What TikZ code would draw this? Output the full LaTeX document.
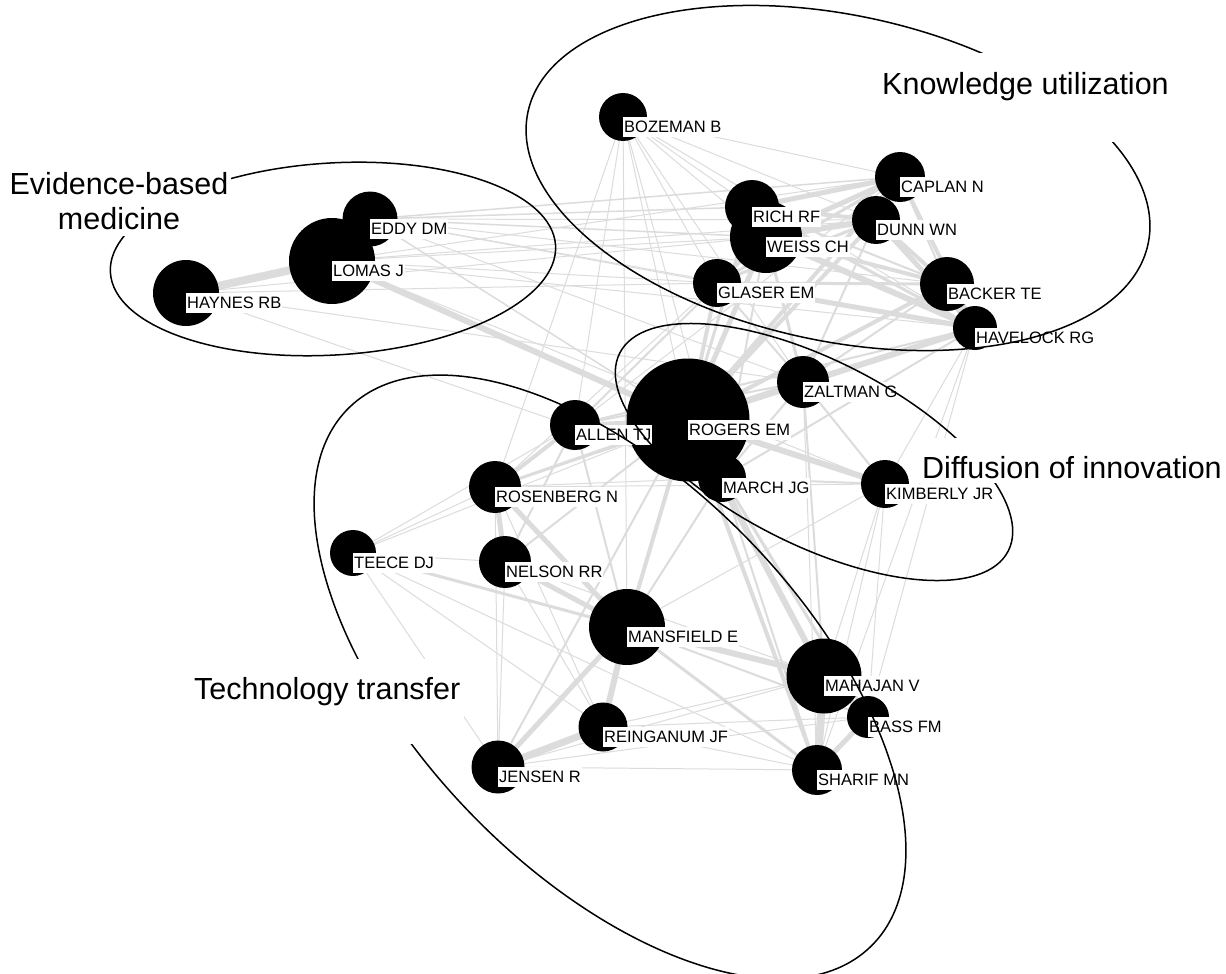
\documentclass[tikz,border=0pt]{standalone}
\usepackage{fontspec}
\setmainfont{Liberation Sans}
\definecolor{edgec}{RGB}{220,220,220}
\pgfdeclarelayer{bg}
\pgfdeclarelayer{edges}
\pgfsetlayers{bg,edges,main}
\begin{document}
\begin{tikzpicture}[x=1pt,y=-1pt,
  dot/.style={circle,fill=black,inner sep=0pt,minimum size=#1},
  ed/.style={draw=edgec,line width=#1},
  lab/.style={anchor=north west,fill=white,inner xsep=1pt,inner ysep=1.5pt,font=\fontsize{16.5}{18}\selectfont,text height=13.5pt,text depth=3.5pt},
  clab/.style={fill=white,font=\fontsize{30.5}{35}\selectfont,inner sep=0pt},
  clus/.style={draw=black,line width=1.5pt}]
\begin{pgfonlayer}{bg}
\fill[white] (0,0) rectangle (1226,974);
\end{pgfonlayer}
\useasboundingbox (0,0) rectangle (1226,974);
% ---- node circles
\node[dot=48] (boz) at (623,117) {};
\node[dot=72] (weiss) at (766,237) {};
\node[dot=54] (rich) at (752,207) {};
\node[dot=50] (caplan) at (900,177) {};
\node[dot=48] (dunn) at (876,220) {};
\node[dot=48] (glaser) at (717,283) {};
\node[dot=54] (backer) at (947,284) {};
\node[dot=44] (havelock) at (975,328) {};
\node[dot=55] (eddy) at (370,219) {};
\node[dot=86] (lomas) at (332,261) {};
\node[dot=66] (haynes) at (186,293) {};
\node[dot=123] (rogers) at (688,420) {};
\node[dot=50] (allen) at (575,425) {};
\node[dot=52] (zaltman) at (803,382) {};
\node[dot=48] (march) at (722,478) {};
\node[dot=48] (kimberly) at (885,484) {};
\node[dot=52] (rosenberg) at (495,487) {};
\node[dot=46] (teece) at (353,553) {};
\node[dot=52] (nelson) at (505,562) {};
\node[dot=76] (mansfield) at (627,627) {};
\node[dot=42] (bass) at (868,717) {};
\node[dot=75] (mahajan) at (824,676) {};
\node[dot=49] (reinganum) at (603,727) {};
\node[dot=53] (jensen) at (498,767) {};
\node[dot=50] (sharif) at (817,770) {};
% ---- edges
\begin{pgfonlayer}{edges}
\foreach \a/\b/\w in {
 haynes/lomas/8, lomas/eddy/4, lomas/rogers/6, haynes/zaltman/1, haynes/march/1,
 eddy/weiss/1.5, eddy/caplan/1.5, eddy/rich/1.5, eddy/dunn/1, lomas/weiss/1,
 lomas/glaser/1, eddy/havelock/1, lomas/kimberly/1, lomas/caplan/1, eddy/backer/1,
 haynes/weiss/1, eddy/glaser/1, lomas/dunn/1, lomas/havelock/1, eddy/zaltman/1,
 haynes/glaser/1, eddy/rogers/1.5,
 rich/weiss/6, rich/caplan/5, weiss/caplan/5, weiss/dunn/6, caplan/dunn/5,
 dunn/backer/4, dunn/havelock/5, caplan/havelock/4, weiss/havelock/6, weiss/backer/4,
 glaser/havelock/5, glaser/backer/3, glaser/weiss/3, glaser/dunn/3, backer/havelock/5,
 rich/havelock/3, rich/dunn/4, glaser/caplan/3, caplan/backer/2, rich/backer/2,
 boz/rich/1, boz/weiss/1, boz/caplan/1, boz/dunn/1, boz/glaser/1, boz/havelock/1,
 boz/allen/1, boz/rosenberg/1, boz/rogers/1, boz/march/1, boz/mansfield/1, boz/zaltman/1,
 rogers/weiss/5, rogers/glaser/4, rogers/havelock/6, rogers/caplan/4, rogers/dunn/4,
 rogers/backer/4, rogers/rich/3, zaltman/havelock/4, zaltman/weiss/3, zaltman/glaser/2,
 zaltman/dunn/2, zaltman/backer/2, kimberly/havelock/1, march/havelock/2, march/weiss/2,
 allen/havelock/2, allen/weiss/2, allen/caplan/1, havelock/sharif/1, havelock/bass/1,
 rosenberg/weiss/1, rosenberg/havelock/1,
 rogers/zaltman/6, rogers/kimberly/6, rogers/march/4, rogers/allen/4, rogers/rosenberg/3,
 rogers/mahajan/6, rogers/mansfield/4, rogers/sharif/4, rogers/bass/3, rogers/nelson/2,
 rogers/teece/1, rogers/jensen/2,
 zaltman/kimberly/2, zaltman/mahajan/2, zaltman/march/2, march/kimberly/2, march/mahajan/2,
 march/mansfield/2, kimberly/mahajan/1, kimberly/bass/1, kimberly/sharif/1,
 allen/rosenberg/4, allen/mansfield/2, allen/nelson/2, allen/march/2, allen/teece/1,
 allen/zaltman/2,
 rosenberg/nelson/5, rosenberg/mansfield/5, rosenberg/teece/1, rosenberg/jensen/1,
 rosenberg/reinganum/1, rosenberg/march/1, rosenberg/kimberly/1,
 teece/nelson/1, teece/mansfield/3, teece/jensen/1, teece/reinganum/1, teece/sharif/1,
 nelson/mansfield/5, nelson/jensen/1, nelson/reinganum/1, nelson/mahajan/1,
 mansfield/mahajan/6, mansfield/reinganum/6, mansfield/jensen/5, mansfield/sharif/3,
 mansfield/bass/2, mansfield/kimberly/1,
 mahajan/bass/6, mahajan/sharif/8, bass/sharif/5, reinganum/jensen/7,
 reinganum/mahajan/1, reinganum/sharif/1, reinganum/bass/1,
 jensen/sharif/1, jensen/mahajan/1, jensen/bass/1,
 march/sharif/2, march/bass/1, zaltman/sharif/1}
 {\draw[ed=\w] (\a.center) -- (\b.center);}
\end{pgfonlayer}
% ---- node labels
\node[lab] (boz-l) at (boz.center) {BOZEMAN B};
\node[lab] (weiss-l) at (weiss.center) {WEISS CH};
\node[lab] (rich-l) at (rich.center) {RICH RF};
\node[lab] (caplan-l) at (caplan.center) {CAPLAN N};
\node[lab] (dunn-l) at (dunn.center) {DUNN WN};
\node[lab] (glaser-l) at (glaser.center) {GLASER EM};
\node[lab] (backer-l) at (backer.center) {BACKER TE};
\node[lab] (havelock-l) at (havelock.center) {HAVELOCK RG};
\node[lab] (lomas-l) at (lomas.center) {LOMAS J};
\node[lab] (eddy-l) at (eddy.center) {EDDY DM};
\node[lab] (haynes-l) at (haynes.center) {HAYNES RB};
\node[lab] (rogers-l) at (rogers.center) {ROGERS EM};
\node[lab] (allen-l) at (allen.center) {ALLEN TJ};
\node[lab] (zaltman-l) at (zaltman.center) {ZALTMAN G};
\node[lab] (march-l) at (march.center) {MARCH JG};
\node[lab] (kimberly-l) at (kimberly.center) {KIMBERLY JR};
\node[lab] (rosenberg-l) at (rosenberg.center) {ROSENBERG N};
\node[lab] (teece-l) at (teece.center) {TEECE DJ};
\node[lab] (nelson-l) at (nelson.center) {NELSON RR};
\node[lab] (mansfield-l) at (mansfield.center) {MANSFIELD E};
\node[lab] (mahajan-l) at (mahajan.center) {MAHAJAN V};
\node[lab] (bass-l) at (bass.center) {BASS FM};
\node[lab] (reinganum-l) at (reinganum.center) {REINGANUM JF};
\node[lab] (jensen-l) at (jensen.center) {JENSEN R};
\node[lab] (sharif-l) at (sharif.center) {SHARIF MN};
% ---- cluster ellipses
\coordinate (kuc) at (838,178);
\coordinate (ebmc) at (333,259);
\coordinate (dic) at (814,452);
\coordinate (ttc) at (610,677);
\draw[clus,rotate around={-12:(kuc)}] (kuc) ellipse [x radius=317pt,y radius=163pt];
\draw[clus,rotate around={3.5:(ebmc)}] (ebmc) ellipse [x radius=223pt,y radius=96pt];
\draw[clus,rotate around={-27:(dic)}] (dic) ellipse [x radius=218pt,y radius=92pt];
\draw[clus,rotate around={-46:(ttc)}] (ttc) ellipse [x radius=375pt,y radius=195pt];
% ---- cluster labels
\node[clab,anchor=base west,inner xsep=4pt,text height=42pt,text depth=47pt] (ku) at (878,95) {Knowledge utilization};
\node[clab,anchor=base west,inner xsep=4pt,text height=40pt,text depth=5pt] (di) at (918,478) {Diffusion of innovation};
\node[clab,anchor=base west,inner xsep=4pt,text height=40pt,text depth=45pt] (tt) at (190,699) {Technology transfer};
\node[clab,align=center,anchor=north,inner xsep=3pt,inner ysep=6pt] (ebm) at (119,166) {Evidence-based\\medicine};
\end{tikzpicture}
\end{document}
